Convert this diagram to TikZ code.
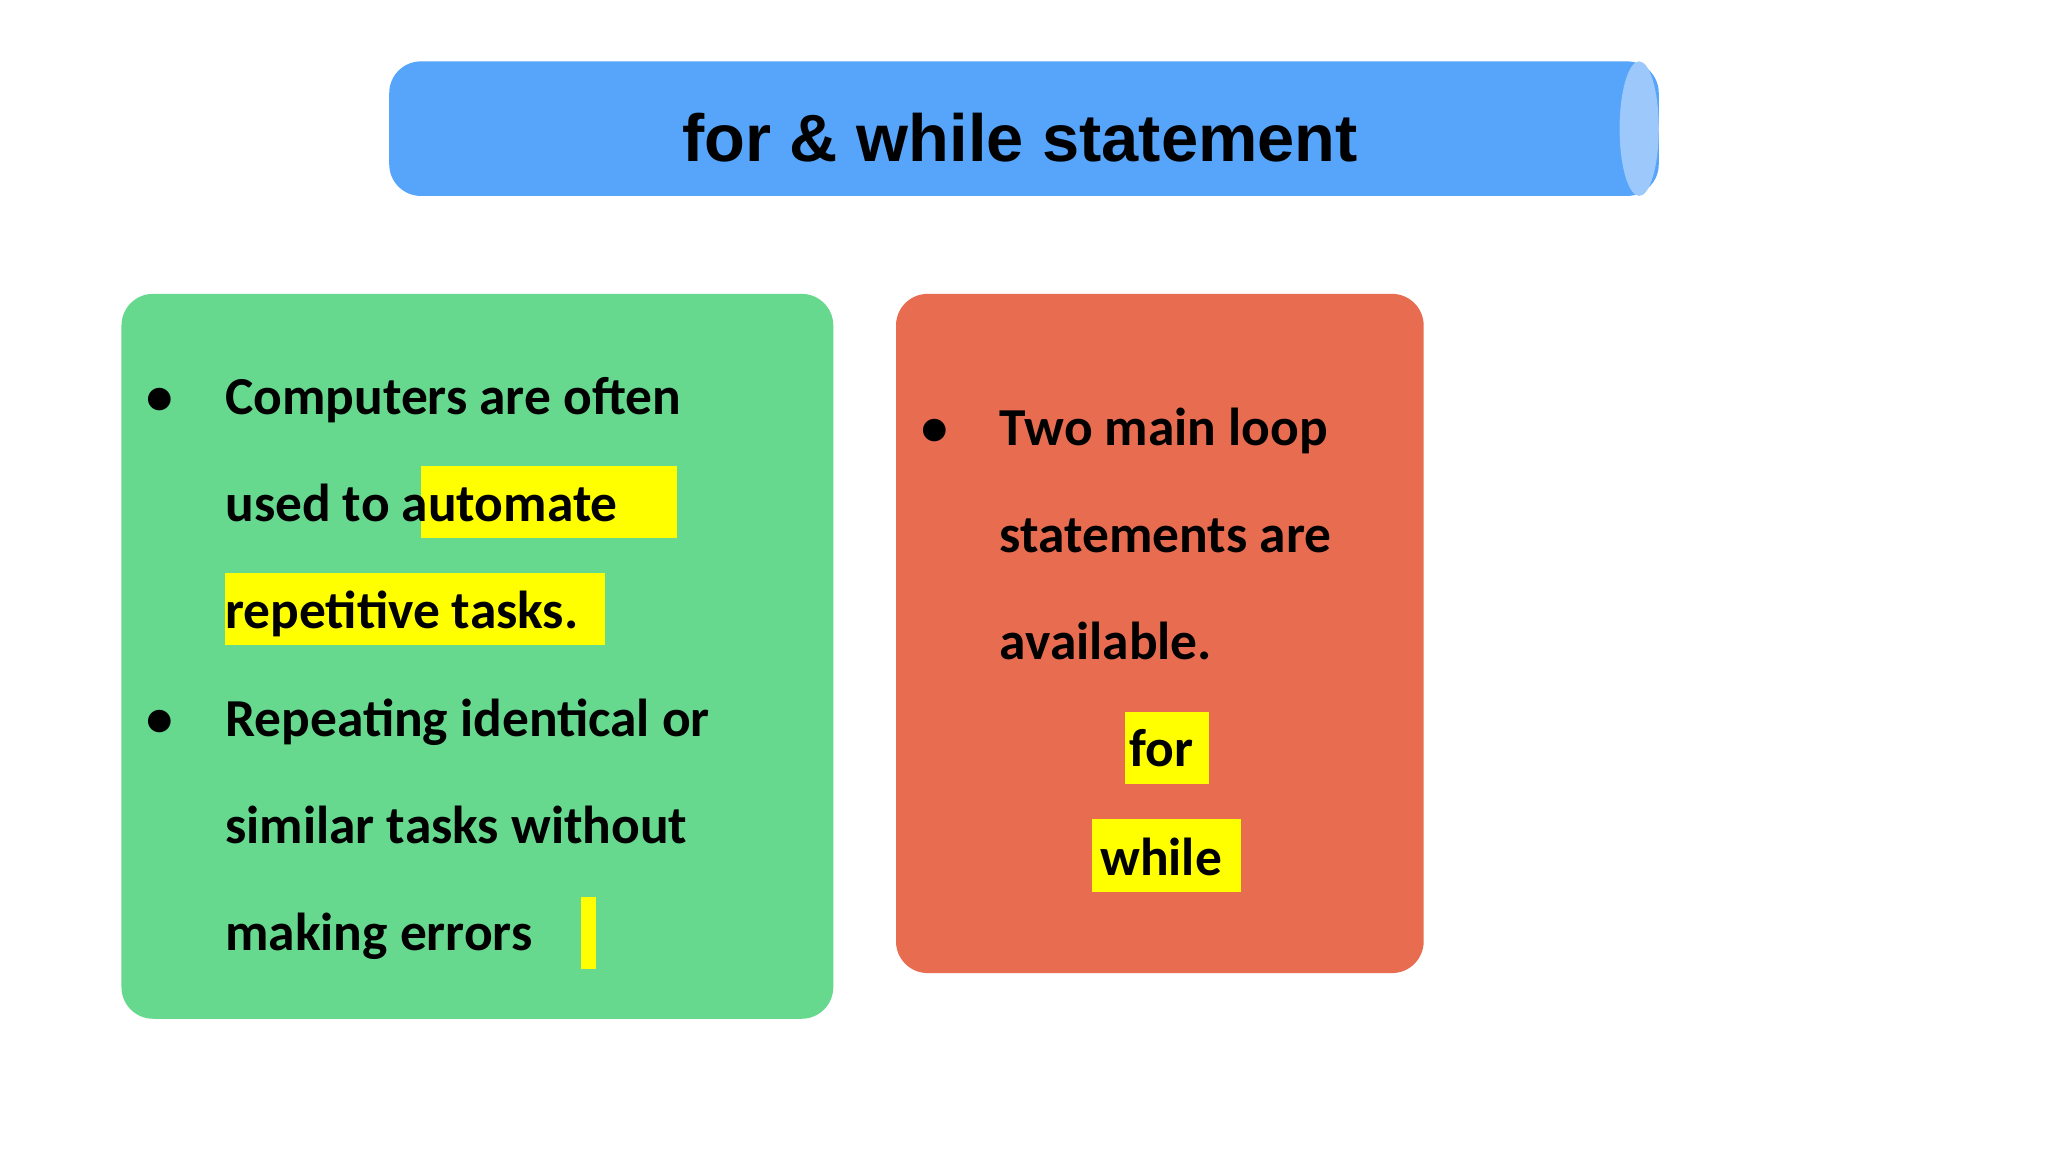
\documentclass[tikz,border=0pt]{standalone}
\usepackage{fontspec}
\setmainfont{Carlito}
\newfontfamily\titlefont{Liberation Sans}
\definecolor{tblue}{HTML}{56A5FB}
\definecolor{tcap}{HTML}{9CC8FC}
\definecolor{gbox}{HTML}{66D98F}
\definecolor{rbox}{HTML}{E86C50}
\definecolor{hl}{HTML}{FFFF00}
\tikzset{
 body/.style={anchor=base west,inner sep=0pt,font=\fontsize{15.2}{18}\selectfont\bfseries},
 hlbox/.style={fill=hl,draw=none},
 card/.style={rounded corners=9pt,draw=none}
}
\begin{document}
\begin{tikzpicture}[x=0.013061cm,y=-0.013061cm]
\useasboundingbox (0,0) rectangle (1568,882);
\fill[white] (0,0) rectangle (1568,882);
% title cylinder
\fill[tblue,rounded corners=9pt] (298,47) rectangle (1270,150);
\fill[tcap] (1255,98.5) ellipse (15 and 51.5);
\node[font=\titlefont\fontsize{19}{22}\selectfont\bfseries] (title) at (781,105) {for \& while statement};
% cards
\fill[card,gbox] (93,225) rectangle (638,780);
\fill[card,rbox] (686,225) rectangle (1090,745);
% highlights
\fill[hlbox] (322,357) rectangle (518,412);
\fill[hlbox] (172,439) rectangle (463,494);
\fill[hlbox] (445,687) rectangle (456,742);
\fill[hlbox] (861,545) rectangle (926,600);
\fill[hlbox] (836,627) rectangle (950,683);
% green text
\node[body] (b1) at (112,317) {\textbullet};
\node[body] (g1) at (172,317) {Computers are often};
\node[body] (g2) at (172,399) {used to automate};
\node[body] (g3) at (172,481) {repetitive tasks.};
\node[body] (b2) at (112,564) {\textbullet};
\node[body] (g4) at (172,564) {Repeating identical or};
\node[body] (g5) at (172,646) {similar tasks without};
\node[body] (g6) at (172,728) {making errors};
% red text
\node[body] (b3) at (705,341) {\textbullet};
\node[body] (r1) at (765,341) {Two main loop};
\node[body] (r2) at (765,423) {statements are};
\node[body] (r3) at (765,505) {available.};
\node[body,anchor=base] (r4) at (889,587) {for};
\node[body,anchor=base] (r5) at (889,670) {while};
\end{tikzpicture}
\end{document}
